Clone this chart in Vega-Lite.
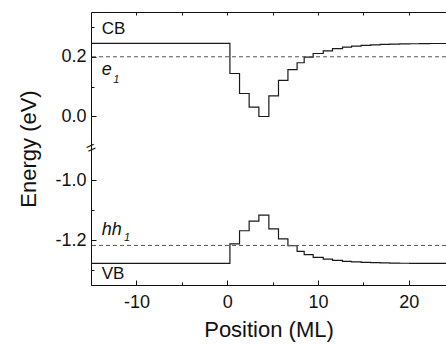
{
  "$schema": "https://vega.github.io/schema/vega-lite/v6.json",
  "width": 355,
  "height": 273,
  "autosize": {"type": "none"},
  "padding": {"left": 91, "top": 12, "right": 0, "bottom": 59},
  "background": "white",
  "config": {
    "font": "Liberation Sans",
    "view": {"stroke": "#111", "strokeWidth": 1},
    "axis": {"grid": false, "domain": false, "tickColor": "#111", "labelColor": "#111", "titleColor": "#111", "labelFont": "Liberation Sans", "titleFont": "Liberation Sans", "labelFontSize": 18, "titleFontSize": 22, "titleFontWeight": "normal", "tickWidth": 1}
  },
  "datasets": {
    "bands": [
      {"x": -15, "E": 0.245, "band": "CB"},
      {"x": 0.3, "E": 0.144, "band": "CB"},
      {"x": 1.36, "E": 0.077, "band": "CB"},
      {"x": 2.42, "E": 0.031, "band": "CB"},
      {"x": 3.49, "E": 0.0, "band": "CB"},
      {"x": 4.59, "E": 0.069, "band": "CB"},
      {"x": 5.65, "E": 0.121, "band": "CB"},
      {"x": 6.69, "E": 0.157, "band": "CB"},
      {"x": 7.7, "E": 0.18, "band": "CB"},
      {"x": 8.48, "E": 0.199, "band": "CB"},
      {"x": 9.47, "E": 0.211, "band": "CB"},
      {"x": 10.58, "E": 0.22, "band": "CB"},
      {"x": 11.6, "E": 0.227, "band": "CB"},
      {"x": 12.7, "E": 0.2325, "band": "CB"},
      {"x": 13.7, "E": 0.236, "band": "CB"},
      {"x": 14.75, "E": 0.2385, "band": "CB"},
      {"x": 15.8, "E": 0.24, "band": "CB"},
      {"x": 16.85, "E": 0.2415, "band": "CB"},
      {"x": 17.9, "E": 0.2425, "band": "CB"},
      {"x": 19.0, "E": 0.243, "band": "CB"},
      {"x": 20.1, "E": 0.2437, "band": "CB"},
      {"x": 21.2, "E": 0.2442, "band": "CB"},
      {"x": 22.3, "E": 0.2445, "band": "CB"},
      {"x": 24.1, "E": 0.2445, "band": "CB"},
      {"x": -15, "E": -1.278, "band": "VB"},
      {"x": 0.3, "E": -1.213, "band": "VB"},
      {"x": 1.36, "E": -1.169, "band": "VB"},
      {"x": 2.42, "E": -1.137, "band": "VB"},
      {"x": 3.49, "E": -1.117, "band": "VB"},
      {"x": 4.59, "E": -1.163, "band": "VB"},
      {"x": 5.65, "E": -1.196, "band": "VB"},
      {"x": 6.69, "E": -1.219, "band": "VB"},
      {"x": 7.7, "E": -1.238, "band": "VB"},
      {"x": 8.48, "E": -1.249, "band": "VB"},
      {"x": 9.47, "E": -1.258, "band": "VB"},
      {"x": 10.58, "E": -1.264, "band": "VB"},
      {"x": 11.6, "E": -1.268, "band": "VB"},
      {"x": 12.7, "E": -1.271, "band": "VB"},
      {"x": 13.7, "E": -1.273, "band": "VB"},
      {"x": 14.75, "E": -1.2745, "band": "VB"},
      {"x": 15.8, "E": -1.2755, "band": "VB"},
      {"x": 16.85, "E": -1.2765, "band": "VB"},
      {"x": 17.9, "E": -1.277, "band": "VB"},
      {"x": 19.0, "E": -1.2775, "band": "VB"},
      {"x": 20.1, "E": -1.278, "band": "VB"},
      {"x": 24.1, "E": -1.278, "band": "VB"}
    ],
    "levels": [
      {"name": "e1", "E": 0.2},
      {"name": "hh1", "E": -1.218}
    ],
    "bandLabels": [
      {"x": -13.82, "E": 0.293, "t": "CB"},
      {"x": -13.82, "E": -1.313, "t": "VB"}
    ],
    "levelLabels": [
      {"x": -13.82, "E": 0.139, "t": "e"},
      {"x": -13.82, "E": -1.183, "t": "hh"}
    ],
    "subs": [
      {"x": -12.54, "E": 0.111, "t": "1"},
      {"x": -11.37, "E": -1.202, "t": "1"}
    ],
    "breaks": [
      {"x": -15, "E": -0.5, "t": "="}
    ]
  },
  "layer": [
    {
      "data": {"name": "bands"},
      "mark": {"type": "line", "interpolate": "step-after", "color": "#1a1a1a", "strokeWidth": 1.2},
      "encoding": {
        "x": {"field": "x", "type": "quantitative", "scale": {"domain": [-15, 24.1], "nice": false, "zero": false},
              "axis": {"orient": "bottom", "values": [-10, 0, 10, 20], "labelExpr": "(datum.value < 0 ? '-' : '') + format(abs(datum.value), 'd')", "tickSize": -5, "labelPadding": 13, "title": "Position (ML)", "titlePadding": 8}},
        "y": {"field": "E", "type": "quantitative",
              "scale": {"domain": [-1.35, -0.893, -0.1056, 0.35], "range": [273, 136, 136, 0], "nice": false, "zero": false},
              "axis": {"orient": "left", "values": [-1.2, -1.0, 0.0, 0.2], "labelExpr": "(datum.value < 0 ? '-' : '') + format(abs(datum.value), '.1f')", "tickSize": -5, "labelPadding": 10, "title": "Energy (eV)", "titlePadding": 14}},
        "detail": {"field": "band"}
      }
    },
    {
      "data": {"name": "levels"},
      "mark": {"type": "rule", "color": "#555", "strokeWidth": 1, "strokeDash": [4, 3]},
      "encoding": {
        "y": {"field": "E", "type": "quantitative", "axis": null}
      }
    },
    {
      "data": {"name": "bandLabels"},
      "mark": {"type": "text", "align": "left", "baseline": "middle", "fontSize": 17, "color": "#111"},
      "encoding": {
        "x": {"field": "x", "type": "quantitative",
              "axis": {"orient": "bottom", "values": [-15, -5, 5, 15], "tickSize": -3, "labels": false, "title": null}},
        "y": {"field": "E", "type": "quantitative",
              "axis": {"orient": "left", "values": [-1.3, -1.1, 0.1, 0.3], "tickSize": -3, "labels": false, "title": null}},
        "text": {"field": "t"}
      }
    },
    {
      "data": {"name": "levelLabels"},
      "mark": {"type": "text", "align": "left", "baseline": "alphabetic", "fontSize": 18, "fontStyle": "italic", "color": "#111"},
      "encoding": {
        "x": {"field": "x", "type": "quantitative",
              "axis": {"orient": "top", "values": [-10, -5, 0, 5, 10, 15, 20], "tickSize": -3, "labels": false, "title": null}},
        "y": {"field": "E", "type": "quantitative", "axis": null},
        "text": {"field": "t"}
      }
    },
    {
      "data": {"name": "subs"},
      "mark": {"type": "text", "align": "left", "baseline": "alphabetic", "fontSize": 11, "fontStyle": "italic", "color": "#111"},
      "encoding": {
        "x": {"field": "x", "type": "quantitative", "axis": null},
        "y": {"field": "E", "type": "quantitative", "axis": null},
        "text": {"field": "t"}
      }
    },
    {
      "data": {"name": "breaks"},
      "mark": {"type": "text", "align": "center", "baseline": "middle", "fontSize": 16, "angle": 335, "color": "#111", "clip": false},
      "encoding": {
        "x": {"field": "x", "type": "quantitative", "axis": null},
        "y": {"field": "E", "type": "quantitative", "axis": null},
        "text": {"field": "t"}
      }
    }
  ],
  "resolve": {"axis": {"x": "independent", "y": "independent"}}
}
